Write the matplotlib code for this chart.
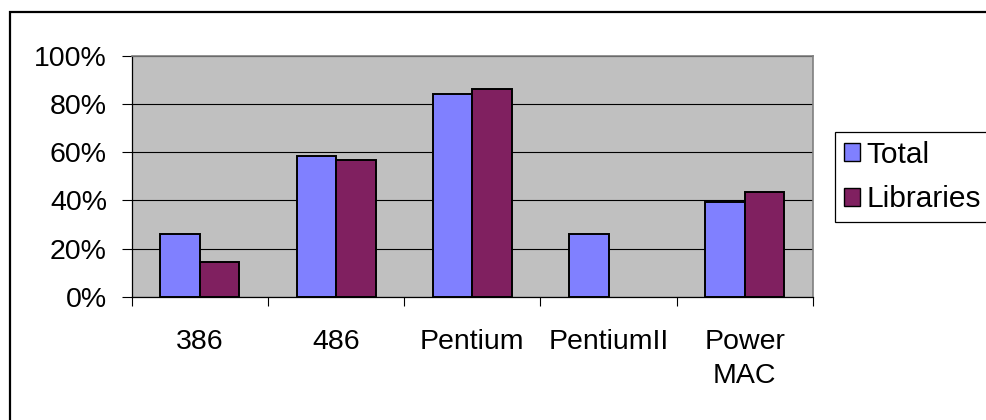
import matplotlib
matplotlib.use("Agg")
import matplotlib.pyplot as plt
from matplotlib.patches import Patch, Rectangle
from matplotlib.ticker import FuncFormatter
import numpy as np

categories = ["386", "486", "Pentium", "PentiumII", "Power\nMAC"]
total = [0.26, 0.586, 0.844, 0.261, 0.393]
libraries = [0.146, 0.568, 0.861, 0.0, 0.435]
series_names = ["Total", "Libraries"]
yticks = [0.0, 0.2, 0.4, 0.6, 0.8, 1.0]

plt.rcParams['font.family'] = ['Liberation Sans', 'DejaVu Sans']

W, H = 987, 420
fig = plt.figure(figsize=(W / 100, H / 100), dpi=100)
fig.patch.set_facecolor("white")

# outer chart border (left and top visible)
fig.add_artist(Rectangle((9.5 / W, -0.1), 1.2, 1.1 - 12.5 / H,
                         transform=fig.transFigure, fill=False,
                         edgecolor="black", linewidth=1.6, clip_on=False))

ax = fig.add_axes([131.7 / W, (H - 296.7) / H, (813 - 131.7) / W, (296.7 - 56) / H])
ax.set_facecolor("#C0C0C0")

x = np.arange(len(categories))
bw = 0.29
tot_h = [v if v > 0 else np.nan for v in total]
lib_h = [v if v > 0 else np.nan for v in libraries]
ax.bar(x - bw / 2, tot_h, bw, color="#8080FF", edgecolor="black", linewidth=1.4, zorder=3)
ax.bar(x + bw / 2, lib_h, bw, color="#802060", edgecolor="black", linewidth=1.4, zorder=3)

ax.set_xlim(-0.5, len(categories) - 0.5)
ax.set_ylim(0, 1)
ax.set_yticks(yticks)
ax.yaxis.set_major_formatter(FuncFormatter(lambda v, p: f"{v * 100:.0f}%"))
ax.grid(axis="y", color="black", linewidth=0.8, zorder=1)
ax.set_axisbelow(True)

ax.set_xticks(x)
ax.set_xticklabels(categories, linespacing=1.4)
ax.set_xticks(np.arange(len(categories) + 1) - 0.5, minor=True)
ax.tick_params(axis="x", which="major", length=0, pad=23, labelsize=20.5)
ax.tick_params(axis="x", which="minor", length=6.5, width=0.8, direction="out")
ax.tick_params(axis="y", length=7.2, width=0.8, direction="out", pad=10.6, labelsize=20.5)

for s in ["top", "right"]:
    ax.spines[s].set_color("#808080")
    ax.spines[s].set_linewidth(1.2)
for s in ["left", "bottom"]:
    ax.spines[s].set_color("black")
    ax.spines[s].set_linewidth(0.9)

handles = [Patch(facecolor="#8080FF", edgecolor="black", linewidth=1.0),
           Patch(facecolor="#802060", edgecolor="black", linewidth=1.0)]
leg = fig.legend(handles, series_names, loc="upper left",
                 bbox_to_anchor=(835 / W, 1 - 131.7 / H),
                 fontsize=21.5, frameon=True, fancybox=False, shadow=False,
                 handlelength=0.55, handleheight=0.55, handletextpad=0.2,
                 borderpad=0.3, labelspacing=0.55, borderaxespad=0)
leg.get_frame().set_edgecolor("black")
leg.get_frame().set_linewidth(0.9)
leg.get_frame().set_alpha(1)

fig.savefig("out.png", dpi=100)
